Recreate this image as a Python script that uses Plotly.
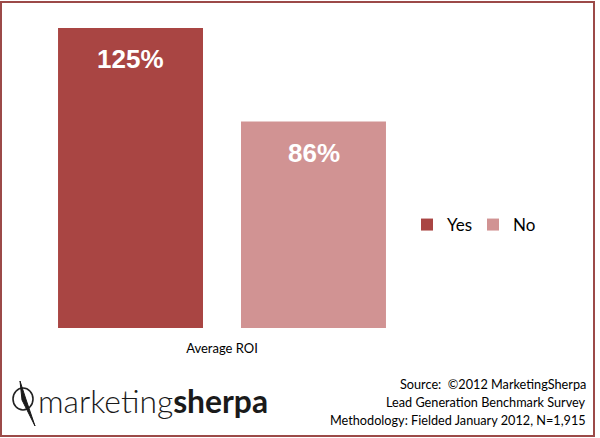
import plotly.graph_objects as go

# ---- data ----
categories = ["Average ROI"]
series_names = ["Yes", "No"]
yes_values = [125]
no_values = [86]
bar_labels_yes = ["125%"]
bar_labels_no = ["86%"]
source_lines = [
    "Source:  \u00a92012 MarketingSherpa",
    "Lead Generation Benchmark Survey",
    "Methodology: Fielded January 2012, N=1,915",
]

W, H = 600, 438
def px(x):
    return x / W
def py(y):
    return 1 - y / H

YES_COLOR = "#A94543"
NO_COLOR = "#D19393"
BORDER = "#9C4A48"

fig = go.Figure()
fig.add_trace(go.Bar(name=series_names[0], x=categories, y=yes_values,
                     marker=dict(color=YES_COLOR, line=dict(width=0))))
fig.add_trace(go.Bar(name=series_names[1], x=categories, y=no_values,
                     marker=dict(color=NO_COLOR, line=dict(width=0))))

annotations = []
for vals, labs, shift in [(yes_values, bar_labels_yes, -91.5), (no_values, bar_labels_no, 91.5)]:
    for c, v, t in zip(categories, vals, labs):
        annotations.append(dict(x=c, y=v, xref="x", yref="y", text=t, showarrow=False,
                                xshift=shift, yshift=-31, yanchor="middle",
                                font=dict(family="Liberation Sans", size=26, color="white", weight="bold")))

for i, line in enumerate(source_lines):
    annotations.append(dict(
        x=px(588), y=py(384 + 18 * i), xref="paper", yref="paper", xanchor="right", yanchor="middle",
        align="right", showarrow=False, text=line,
        font=dict(family="Lato", size=12.7, color="black")))

annotations.append(dict(
    x=px(36), y=py(401), xref="paper", yref="paper", xanchor="left", yanchor="middle",
    showarrow=False,
    text="<span style='font-weight:300'>marketing</span><b>sherpa</b>",
    font=dict(family="Lato", size=31.8, color="#1a1a1a")))

shapes = [
    dict(type="rect", xref="paper", yref="paper", x0=px(1), x1=px(594), y0=py(436), y1=py(2),
         line=dict(color=BORDER, width=2), fillcolor="rgba(0,0,0,0)"),
    dict(type="circle", xref="paper", yref="paper", x0=px(13), x1=px(33), y0=py(410), y1=py(388),
         line=dict(color="#222222", width=1.6)),
    dict(type="path", xref="paper", yref="paper",
         path=f"M {px(20)} {py(381)} L {px(25.5)} {py(398)} L {px(35)} {py(426)} L {px(22)} {py(400)} Z",
         fillcolor="#1a1a1a", line=dict(color="#1a1a1a", width=1)),
]

fig.update_layout(
    width=W, height=H,
    margin=dict(l=0, r=0, t=0, b=0),
    paper_bgcolor="white", plot_bgcolor="white",
    barmode="group", bargap=0.1, bargroupgap=0.2077,
    xaxis=dict(domain=[px(18.7), px(425.3)], showgrid=False, zeroline=False, showline=False,
               ticks="", ticklabelstandoff=11,
               tickfont=dict(family="Lato", size=13, color="black")),
    yaxis=dict(domain=[py(328), py(28)], range=[0, 125], visible=False),
    legend=dict(orientation="h", x=px(407), xanchor="left", y=py(225), yanchor="middle",
                entrywidth=21, entrywidthmode="pixels",
                font=dict(family="Lato", size=17, color="black"), bgcolor="rgba(0,0,0,0)"),
    showlegend=True,
    annotations=annotations,
    shapes=shapes,
)

fig.write_html("out.html", config={"displayModeBar": False},
               post_script="document.body.style.margin='0';document.body.style.overflow='hidden';")
